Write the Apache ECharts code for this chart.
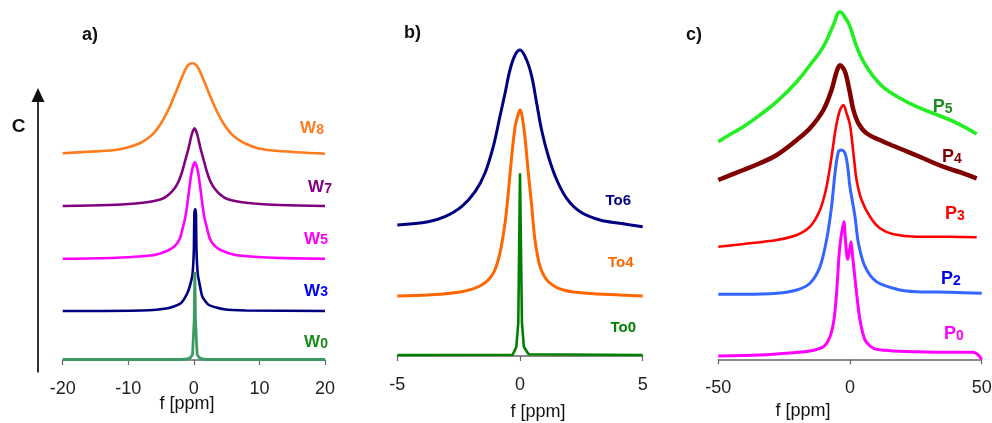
<!DOCTYPE html>
<html>
<head>
<meta charset="utf-8">
<script src="https://cdn.jsdelivr.net/npm/echarts@6/dist/echarts.min.js"></script>
<style>
  html, body { margin: 0; padding: 0; background: #fff; }
  #chart { width: 992px; height: 423px; }
</style>
</head>
<body>
<div id="chart"></div>
<script>
// spectra: [f in ppm, intensity (offset stacked, arbitrary units)]
// panel a
const w8 = [[-20,206.7],[-16.25,208.2],[-12.25,209.7],[-10.25,212.2],[-8.25,216.7],[-7,221.7],[-6,227.7],[-5,236.7],[-4,248.7],[-3,263.7],[-2,279.7],[-1,293.7],[-0.25,296.7],[0.5,293.7],[1.5,279.7],[2.5,263.7],[3.5,248.7],[4.5,236.7],[5.5,227.7],[6.5,221.7],[7.75,216.7],[9.75,211.7],[11.75,209.7],[15.75,207.7],[20,206.2]];
const w7 = [[-20,154],[-12.9,155],[-8.9,156.5],[-6.9,158],[-4.9,161],[-3.9,165],[-2.9,172],[-2.3,179],[-1.8,188],[-1.3,200],[-0.8,212],[-0.3,226],[0.1,231.7],[0.5,226],[1,212],[1.5,200],[2,188],[2.5,179],[3.1,172],[4.1,165],[5.1,161],[7.1,158],[9.1,156.5],[13.1,155],[20,154]];
const w5 = [[-20,101.3],[-11.85,102.3],[-7.85,103.8],[-5.85,105.3],[-3.85,109.8],[-2.85,114.3],[-2.15,121.3],[-1.65,133.3],[-1.35,141.3],[-1.05,153.3],[-0.7,171.3],[-0.3,189.3],[0.15,197.6],[0.6,189.3],[1,171.3],[1.35,153.3],[1.65,141.3],[1.95,133.3],[2.45,121.3],[3.15,114.3],[4.15,109.8],[6.15,105.3],[8.15,103.8],[12.15,102.3],[20,101.3]];
const w3 = [[-20,49],[-8,49.5],[-4,51.7],[-2,56.7],[-1,66.7],[-0.5,76.7],[-0.2,86],[0,110],[0.08,146],[0.2,150.7],[0.32,146],[0.4,110],[0.6,86],[0.85,76.7],[1.3,63.3],[2.3,55],[4.6,50.7],[8,49.5],[20,49]];
const w0 = [[-20,0.5],[-2,0.5],[-1,1],[-0.5,2.5],[-0.2,5.5],[0.05,40],[0.15,88],[0.25,40],[0.5,5.5],[0.8,2.5],[1.3,1],[2,0.5],[20,0.5]];
// panel b
const to6 = [[-5,131],[-3.74,134.3],[-3.06,139.3],[-2.38,149.3],[-1.83,164.3],[-1.43,182.7],[-1.09,209.3],[-0.82,239.3],[-0.61,262.7],[-0.41,286],[-0.2,301],[0,306],[0.27,296],[0.48,279.3],[0.68,252.7],[0.88,226],[1.16,199.3],[1.5,176],[1.9,157.7],[2.45,144.3],[3.26,136],[4.08,132.7],[5,129.3]];
const to4 = [[-5,60],[-3.74,61],[-2.38,64.3],[-1.56,71],[-1.09,82.7],[-0.82,102.7],[-0.61,132.7],[-0.48,162.7],[-0.34,199.3],[-0.2,229.3],[-0.07,242],[0,246],[0.07,242],[0.2,219.3],[0.34,182.7],[0.48,149.3],[0.61,116],[0.82,89.3],[1.16,74.3],[1.77,66],[2.72,62.7],[4.08,61],[5,60]];
const to0 = [[-5,1],[-0.3,1.3],[-0.15,9],[-0.07,33],[0,182.7],[0.08,33],[0.16,9],[0.35,1.7],[5,1]];
// panel c
const p5 = [[-50,217.6],[-47,222.6],[-40.5,232.6],[-34.2,244.3],[-27.8,257.6],[-20.2,277.6],[-15.2,294.3],[-10.1,312.6],[-6.3,334.3],[-3.8,347.6],[-1.25,339.3],[0,332.6],[2.5,312.6],[5.1,297.6],[8.9,282.6],[12.7,272],[19,261],[25.3,252.6],[31.6,246],[38,239.3],[43,233],[48.1,225.3]];
const p4 = [[-50,179.3],[-40.5,189.3],[-34.2,196],[-27.8,204.3],[-20.2,219.3],[-15.2,231],[-10.1,249.3],[-7,269.3],[-5.1,287.6],[-3.8,294],[-1.9,287.6],[-0.25,269.3],[0,266],[1.3,249.3],[3.2,236],[6.3,226],[12.7,217.6],[20.3,209.3],[27.8,201],[35.4,192.6],[43,186],[48.1,181]];
const p3 = [[-50,112.6],[-40.5,115.3],[-27.8,119.3],[-20.2,124.3],[-15.2,132.6],[-11.4,149.3],[-8.9,172.6],[-7,202.6],[-5.3,232.6],[-3.8,249.3],[-2.5,254.3],[-1.3,246],[0,234.3],[1.3,206],[2.5,179.3],[4.4,159.3],[7.6,142.6],[11.4,131],[16.5,125],[25.3,122.6],[38,122.6],[48.1,122]];
const p2 = [[-50,65],[-40.5,65],[-27.8,66],[-20.2,69.3],[-15.2,76],[-11.4,92.6],[-8.9,119.3],[-7,152.6],[-5.7,186],[-4.4,207.6],[-3.2,209.3],[-1.9,206],[-1,195],[0,172],[1.9,142.6],[3.2,116],[5.7,92.6],[10.1,77.6],[19,69.3],[25.3,67.6],[38,67],[50,66]];
const p0 = [[-50,3.3],[-34.2,4.3],[-21.5,6.6],[-15.2,8.3],[-10.1,12.6],[-7.6,22.6],[-6.1,39.3],[-5.1,66],[-4.1,106],[-3.2,126],[-2.3,137.6],[-1.8,122],[-1.2,104],[-0.8,100],[0.4,117.6],[1,103],[2.5,66],[3.8,39.3],[5.7,19.3],[8.9,11],[15.2,8.6],[25.3,7.6],[38,7],[46.8,7],[48.7,4.3],[50,0]];

const font = 'Liberation Sans, Arial, sans-serif';

const chart = echarts.init(document.getElementById('chart'));

function xAx(idx, min, max, step) {
  return {
    type: 'value', gridIndex: idx, min: min, max: max, interval: step,
    axisLine: { lineStyle: { color: '#666', width: 1.5 } },
    axisTick: { show: true, length: 5, lineStyle: { color: '#666', width: 1.2 } },
    splitLine: { show: false },
    axisLabel: { color: '#222', fontSize: 18, fontFamily: font, margin: 20 }
  };
}
function yAx(idx, max) {
  return { type: 'value', gridIndex: idx, min: 0, max: max, show: false };
}
function spec(data, color, width, idx, smooth) {
  return {
    type: 'line', data: data, xAxisIndex: idx, yAxisIndex: idx,
    showSymbol: false, smooth: smooth || false,
    lineStyle: { color: color, width: width }, silent: true
  };
}
function lab(x, y, main, sub, color, big, small) {
  return {
    type: 'text', x: x, y: y, silent: true,
    style: {
      text: '{m|' + main + '}{s|' + sub + '}', align: 'center', verticalAlign: 'middle',
      rich: {
        m: { fontSize: big, fontWeight: 'bold', fontFamily: font, fill: color, color: color },
        s: { fontSize: small, fontWeight: 'bold', fontFamily: font, fill: color, color: color, verticalAlign: 'bottom' }
      }
    }
  };
}
function txt(x, y, s, size, bold) {
  return {
    type: 'text', x: x, y: y, silent: true,
    style: { text: s, fontSize: size, fontWeight: bold ? 'bold' : 'normal', fontFamily: font,
      fill: '#111', align: 'center', verticalAlign: 'middle' }
  };
}

const option = {
  animation: false,
  grid: [
    { left: 62.7, top: 0, width: 262.3, height: 360, outerBoundsMode: 'none' },
    { left: 397.3, top: 0, width: 245.4, height: 356, outerBoundsMode: 'none' },
    { left: 718.3, top: 0, width: 263.4, height: 359.3, outerBoundsMode: 'none' }
  ],
  xAxis: [xAx(0, -20, 20, 10), xAx(1, -5, 5, 5), xAx(2, -50, 50, 50)],
  yAxis: [yAx(0, 360), yAx(1, 356), yAx(2, 359.3)],
  series: [
    spec(w8, '#ff7b1c', 2.6, 0, 0.35),
    spec(w7, '#800080', 2.6, 0, 0.3),
    spec(w5, '#ff00ff', 2.6, 0, 0.3),
    spec(w3, '#000080', 2.6, 0, 0.2),
    spec(w0, '#3c9a64', 2.8, 0, false),
    spec(to6, '#000080', 3, 1, 0.35),
    spec(to4, '#ff6600', 3, 1, 0.3),
    spec(to0, '#008000', 2.6, 1, false),
    spec(p5, '#22ee22', 3.6, 2, 0.4),
    spec(p4, '#800000', 4.5, 2, 0.35),
    spec(p3, '#ff0000', 2.6, 2, 0.3),
    spec(p2, '#3366ff', 3, 2, 0.3),
    spec(p0, '#ff00ff', 3, 2, 0.25)
  ],
  graphic: [
    // concentration arrow of panel a
    { type: 'line', silent: true, shape: { x1: 38, y1: 372.5, x2: 38, y2: 100 }, style: { stroke: '#333', lineWidth: 2 } },
    { type: 'polygon', silent: true, shape: { points: [[31.5, 102], [44.5, 102], [38, 88]] }, style: { fill: '#111' } },
    txt(18.5, 127, 'C', 19, true),
    txt(90, 35, 'a)', 18, true),
    txt(412.5, 33, 'b)', 18, true),
    txt(694, 35, 'c)', 18, true),
    txt(187, 404, 'f [ppm]', 18, false),
    txt(538, 412, 'f [ppm]', 18, false),
    txt(803, 411, 'f [ppm]', 18, false),
    lab(312, 128.5, 'W', '8', '#ff7b1c', 17, 14),
    lab(320, 187.5, 'W', '7', '#800080', 17, 14),
    lab(316, 239, 'W', '5', '#ff00ff', 17, 14),
    lab(316, 291, 'W', '3', '#0000ff', 17, 14),
    lab(316, 342.5, 'W', '0', '#1a8a1a', 17, 14),
    lab(618.3, 201, 'To', '6', '#000080', 15, 15),
    lab(620.7, 263.3, 'To', '4', '#ff6600', 15, 15),
    lab(623.3, 328.3, 'To', '0', '#008000', 15, 15),
    lab(942.7, 106.7, 'P', '5', '#1e8c1e', 18, 14),
    lab(952, 157.3, 'P', '4', '#800000', 18, 14),
    lab(955, 214, 'P', '3', '#ff0000', 18, 14),
    lab(951, 278.7, 'P', '2', '#0000ee', 18, 14),
    lab(954, 333.7, 'P', '0', '#ff00ff', 18, 14)
  ]
};

chart.setOption(option);
</script>
</body>
</html>
